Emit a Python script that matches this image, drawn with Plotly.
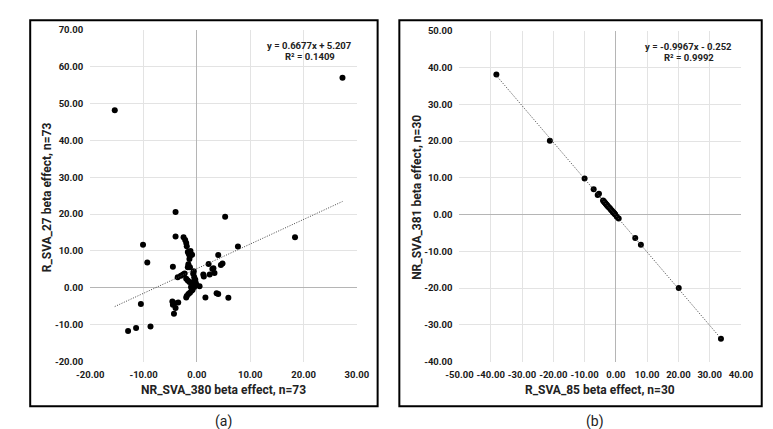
import plotly.graph_objects as go

# ---------------- Data: panel (a) ----------------
a_x = [-15.4, 27.3, -4.0, 5.3, 18.4, 7.7, -10.1, -9.3, -4.0, -4.5,
       -2.5, -2.2, -2.0, -1.9, -1.7, -1.5, -1.3, -1.4, -1.6, -1.3,
       -1.7, -2.6, -3.0, -3.6, -2.0, -1.7, -1.4, -1.0, -0.7, -0.5,
       -0.7, -0.4, -0.2, 0.5, -1.0, -1.3, -1.6, -1.9, -2.0, 4.0,
       2.2, 4.5, 4.8, 3.1, 2.9, 3.3, 2.4, 1.2, 1.3, 1.6,
       5.9, 3.7, 4.0, -4.6, -4.5, -3.5, -4.0, -4.3, -8.7, -10.5,
       -12.9, -11.4, -0.5, -0.3, -0.6, -1.1, -4.2, -0.9, -1.2, -0.8,
       -0.1, -0.4, -2.3]
a_y = [48.2, 57.0, 20.6, 19.3, 13.7, 11.2, 11.7, 6.9, 13.9, 5.7,
       13.7, 13.0, 12.2, 11.3, 9.7, 9.1, 8.6, 7.8, 6.4, 5.6,
       5.6, 3.6, 3.3, 2.9, 2.5, 2.0, 1.6, 1.1, 1.6, 2.9,
       3.8, 0.7, 1.3, 0.4, -0.8, -1.3, -1.7, -2.2, -2.6, 8.9,
       6.5, 6.2, 6.6, 5.3, 5.1, 4.0, 3.6, 3.6, 3.1, -2.6,
       -2.7, -1.5, -1.7, -3.7, -4.6, -4.0, -5.5, -7.0, -10.5, -4.4,
       -11.7, -10.9, 0.2, 2.2, 4.5, 0.2, -4.2, 9.0, 10.0, -0.5,
       0.8, 1.0, 3.9]
a_slope, a_intercept, a_r2 = 0.6677, 5.207, 0.1409
a_xticks = [-20, -10, 0, 10, 20, 30]
a_yticks = [-20, -10, 0, 10, 20, 30, 40, 50, 60, 70]

# ---------------- Data: panel (b) ----------------
b_x = [-38.2, -21.1, -10.0, -7.1, -5.8, -5.4,
       -4.1, -3.9, -3.7, -3.5, -3.3, -3.1, -2.9, -2.7, -2.5, -2.2,
       -1.9, -1.6, -1.3, -1.0, -0.8, -0.6, -0.4, -0.2, 0.3,
       0.9, 6.2, 8.0, 20.1, 33.6]
b_y = [38.1, 20.1, 9.8, 6.9, 5.3, 5.7,
       3.8, 3.6, 3.4, 3.2, 3.0, 2.8, 2.6, 2.4, 2.2, 1.9,
       1.7, 1.3, 1.1, 0.8, 0.6, 0.4, 0.2, 0.0, -0.6,
       -1.1, -6.4, -8.2, -20.0, -33.8]
b_slope, b_intercept, b_r2 = -0.9967, -0.252, 0.9992
b_xticks = [-50, -40, -30, -20, -10, 0, 10, 20, 30, 40]
b_yticks = [-40, -30, -20, -10, 0, 10, 20, 30, 40, 50]

a_xtitle = "NR_SVA_380 beta effect, n=73"
a_ytitle = "R_SVA_27 beta effect, n=73"
b_xtitle = "R_SVA_85 beta effect, n=30"
b_ytitle = "NR_SVA_381 beta effect, n=30"

def labels(vals):
    return ["%.2f" % v for v in vals]   # plain hyphen minus, like the reference

W, H = 773, 429
def px(x):
    return x / W
def py(y):
    return 1 - y / H

FONT = "Roboto"
tickfont = dict(family=FONT, size=9.5, color="#1a1a1a", weight="bold")

fig = go.Figure()

marker = dict(color="black", size=6)
trend = dict(color="#444", width=1, dash="1px,1.5px")

fig.add_trace(go.Scatter(x=a_x, y=a_y, mode="markers", marker=marker,
                         xaxis="x", yaxis="y", showlegend=False))
a_lx = [min(a_x), max(a_x)]
fig.add_trace(go.Scatter(x=a_lx, y=[a_slope * v + a_intercept for v in a_lx],
                         mode="lines", line=trend,
                         xaxis="x", yaxis="y", showlegend=False))

fig.add_trace(go.Scatter(x=b_x, y=b_y, mode="markers", marker=marker,
                         xaxis="x2", yaxis="y2", showlegend=False))
b_lx = [min(b_x), max(b_x)]
fig.add_trace(go.Scatter(x=b_lx, y=[b_slope * v + b_intercept for v in b_lx],
                         mode="lines", line=trend,
                         xaxis="x2", yaxis="y2", showlegend=False))

axcommon = dict(showgrid=True, gridcolor="#e3e3e3", gridwidth=1,
                zeroline=True, zerolinecolor="#b5b5b5", zerolinewidth=1,
                showline=False, ticks="", tickangle=0,
                tickfont=tickfont, fixedrange=True, tickmode="array")

fig.update_layout(
    width=W, height=H,
    margin=dict(l=0, r=0, t=0, b=0),
    paper_bgcolor="white", plot_bgcolor="white",
    xaxis=dict(domain=[px(70.7), px(347)], range=[-20, 30],
               tickvals=a_xticks, ticktext=labels(a_xticks),
               anchor="y", ticklabelstandoff=6, **axcommon),
    yaxis=dict(domain=[py(356.7), py(16.3)], range=[-20, 70],
               tickvals=a_yticks, ticktext=labels(a_yticks),
               anchor="x", ticklabelstandoff=6, **axcommon),
    xaxis2=dict(domain=[px(453.3), px(745)], range=[-50, 40],
                tickvals=b_xticks, ticktext=labels(b_xticks),
                anchor="y2", ticklabelstandoff=6, **axcommon),
    yaxis2=dict(domain=[py(356.7), py(17.3)], range=[-40, 50],
                tickvals=b_yticks, ticktext=labels(b_yticks),
                anchor="x2", ticklabelstandoff=6, **axcommon),
)

shapes = [
    dict(type="rect", xref="paper", yref="paper", x0=px(8.5), x1=px(368.5),
         y0=py(402.5), y1=py(6.5), line=dict(color="black", width=2)),
    dict(type="rect", xref="paper", yref="paper", x0=px(391), x1=px(766.5),
         y0=py(402.5), y1=py(6.5), line=dict(color="black", width=2)),
]
fig.update_layout(shapes=shapes)

def ann(text, x, y, size=12, bold=True, angle=0):
    return dict(text=text, x=px(x), y=py(y), xref="paper", yref="paper",
                showarrow=False, xanchor="center", yanchor="middle",
                textangle=angle,
                font=dict(family=FONT, size=size, color="#222",
                          weight="bold" if bold else "normal"))

annotations = [
    ann(a_xtitle, 209, 385.5, 12),
    ann(a_ytitle, 26, 188, 12, angle=-90),
    ann(b_xtitle, 599, 385.5, 12),
    ann(b_ytitle, 410, 188, 12, angle=-90),
    ann(f"y = {a_slope}x + {a_intercept}", 298, 32, 9.5),
    ann(f"R² = {a_r2}", 298, 44, 9.5),
    ann(f"y = {b_slope}x - {abs(b_intercept)}", 691, 33, 9.5),
    ann(f"R² = {b_r2}", 691, 45, 9.5),
    ann("(a)", 209, 418, 14, bold=False),
    ann("(b)", 594, 418, 14, bold=False),
]
fig.update_layout(annotations=annotations)

fig.write_html("out.html")
